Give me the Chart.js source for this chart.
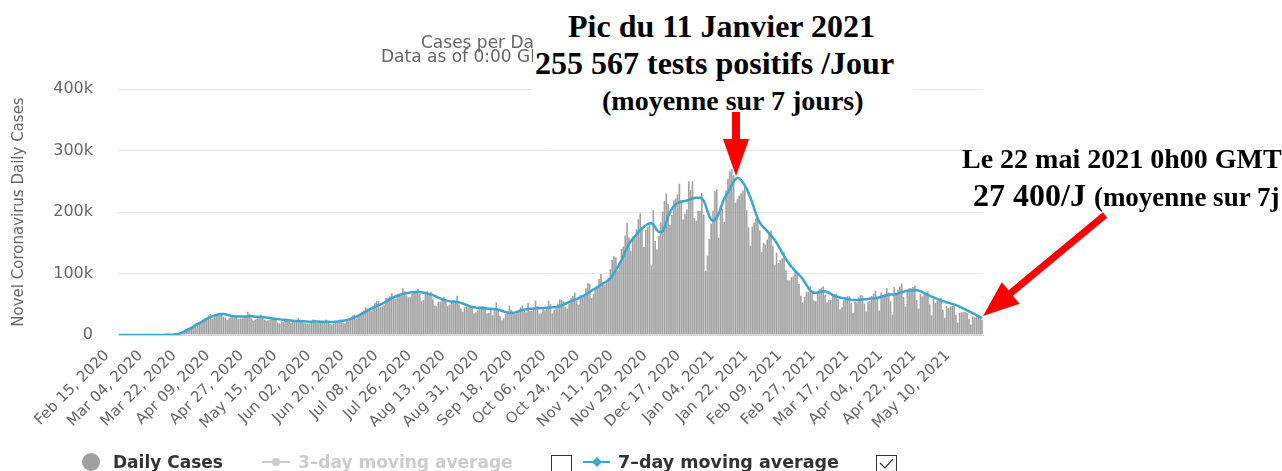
<!DOCTYPE html>
<html>
<head>
<meta charset="utf-8">
<script src="https://cdn.jsdelivr.net/npm/chart.js@4.4.1/dist/chart.umd.min.js"></script>
<style>
  html, body { margin:0; padding:0; background:#fff; width:1282px; height:471px; overflow:hidden; }
  #wrap { position:absolute; left:0; top:0; width:1282px; height:471px; }
  .t { position:absolute; white-space:nowrap; }
  .sub { font-family:"DejaVu Sans", sans-serif; font-size:17px; line-height:17px; color:#666; }
  .ann { font-family:"Liberation Serif", "Times New Roman", serif; font-weight:bold; color:#000; }
  .leg { font-family:"DejaVu Sans", sans-serif; font-weight:bold; font-size:17px; line-height:17px; }
</style>
</head>
<body>
<div id="wrap"><canvas id="c"></canvas></div>

<div class="t sub" style="left:421px; top:34px;">Cases per Day</div>
<div class="t sub" style="left:381px; top:48px;">Data as of 0:00 GMT+0</div>

<div style="position:absolute; left:533px; top:0; width:380px; height:118px; background:#fff;"></div>
<div class="t ann" style="left:568px; top:10px; font-size:32px; line-height:32px;">Pic du 11 Janvier 2021</div>
<div class="t ann" style="left:535px; top:47px; font-size:32px; line-height:32px;">255 567 tests positifs /Jour</div>
<div class="t ann" style="left:602px; top:87px; font-size:28px; line-height:28px;">(moyenne sur 7 jours)</div>

<div class="t ann" style="left:962px; top:145px; font-size:28px; line-height:28px;">Le 22 mai 2021 0h00 GMT</div>
<div class="t ann" style="left:973px; top:179px; font-size:32px; line-height:32px;">27 400/J <span style="font-size:27px; line-height:0;">(moyenne sur 7j</span></div>

<svg style="position:absolute; left:0; top:0;" width="1282" height="471">
  <polygon fill="#ff0000" points="732,112 740,112 740,139 749,139 736,176 723,139 732,139"/>
  <polygon fill="#ff0000" points="1102.8,212.3 1008.5,290.3 1001.8,282.2 983,316 1019.6,303.8 1012.9,295.7 1107.2,217.7"/>
  <!-- legend symbols -->
  <circle cx="91" cy="462" r="9" fill="#a0a0a0"/>
  <line x1="262" y1="462" x2="290" y2="462" stroke="#cccccc" stroke-width="2"/>
  <circle cx="276" cy="462" r="4" fill="#cccccc"/>
  <rect x="551.5" y="455.5" width="20" height="20" fill="none" stroke="#333" stroke-width="1"/>
  <line x1="583" y1="462" x2="610" y2="462" stroke="#3ca6d2" stroke-width="2"/>
  <polygon fill="#3ca6d2" points="597,457 602,462 597,467 592,462"/>
  <rect x="876.5" y="455.5" width="20" height="20" fill="none" stroke="#333" stroke-width="1"/>
  <polyline points="880,463 885,468 893,459" fill="none" stroke="#333" stroke-width="1.2"/>
</svg>
<div class="t leg" style="left:113px; top:454px; color:#333;">Daily Cases</div>
<div class="t leg" style="left:298px; top:454px; color:#cccccc;">3–day moving average</div>
<div class="t leg" style="left:618px; top:454px; color:#333; font-size:17.5px;">7–day moving average</div>

<script>
// Tick labels of the x axis (every 18 days)
const tickLabels = ["Feb 15, 2020","Mar 04, 2020","Mar 22, 2020","Apr 09, 2020","Apr 27, 2020","May 15, 2020",
  "Jun 02, 2020","Jun 20, 2020","Jul 08, 2020","Jul 26, 2020","Aug 13, 2020","Aug 31, 2020","Sep 18, 2020",
  "Oct 06, 2020","Oct 24, 2020","Nov 11, 2020","Nov 29, 2020","Dec 17, 2020","Jan 04, 2021","Jan 22, 2021",
  "Feb 09, 2021","Feb 27, 2021","Mar 17, 2021","Apr 04, 2021","Apr 22, 2021","May 10, 2021"];
const yTicks = [0, 100, 200, 300, 400]; // thousands

// Daily cases (thousands), Feb 15 2020 -> May 22 2021, one row per week (Sat..Fri)
const dailyCases = [
 0,0,0,0,0,0,0,
 0,0,0,0,0,0,0,
 0,0,0,0,0,0.1,0.1,
 0.1,0.1,0.2,0.3,0.4,0.5,0.6,
 0.8,1,1.5,2,3,4.5,6,
 7.5,9,11,11,14,17,19,
 20,19,21,25,27,29,32,
 34,26,29,31,32,34,35,
 30,28,25,27,29,31,32,
 29,26,27,27,29,31,38,
 34,27,23,25,27,30,33,
 29,25,23,24,25,28,28,
 25,20,19,22,21,27,25,
 24,19,22,21,22,28,24,
 22,20,19,19,19,22,25,
 24,20,21,20,20,21,25,
 22,18,17,19,21,23,25,
 25,19,19,23,25,28,32,
 33,27,31,35,38,40,45,
 43,41,40,46,52,55,55,
 45,46,48,60,61,63,68,
 63,59,62,66,68,76,71,
 64,61,62,67,71,72,75,
 67,55,57,66,71,68,70,
 58,48,47,54,54,59,62,
 56,47,49,55,56,52,64,
 50,43,38,45,46,45,48,
 45,35,37,40,44,47,47,
 43,35,36,42,32,44,53,
 42,31,24,27,34,36,48,
 41,34,35,39,40,45,48,
 42,37,52,39,39,45,56,
 47,35,35,43,40,46,56,
 50,35,41,43,51,58,57,
 55,46,43,51,60,64,69,
 56,49,65,60,63,76,84,
 83,60,67,75,80,91,99,
 83,82,90,93,107,122,128,
 126,105,119,140,144,162,182,
 159,137,160,162,172,188,198,
 173,143,171,176,183,113,203,
 153,139,161,183,201,218,230,
 213,179,195,219,222,229,246,
 219,188,197,204,250,236,250,
 190,186,202,202,231,196,104,
 129,156,181,202,234,237,158,
 210,205,184,235,254,266,270,
 260,215,221,227,230,235,240,
 203,175,145,176,183,190,188,
 170,135,150,147,155,166,170,
 145,114,134,117,122,125,135,
 105,89,89,94,95,103,103,
 83,64,53,62,70,70,79,
 72,56,55,72,75,77,79,
 65,53,57,57,66,66,67,
 59,42,45,57,58,63,63,
 52,36,54,53,61,65,64,
 51,38,54,55,63,67,72,
 60,40,69,63,67,76,69,
 55,33,78,66,74,79,84,
 62,46,72,76,76,78,80,
 57,43,67,63,66,69,71,
 50,32,59,52,56,58,60,
 41,28,47,44,46,47,47,
 33,20,36,37,37,38,36,
 26,17,30,29,31,31,30,
 25
];

// 7-day moving average (thousands), same days
const avg7 = [
 0,0,0,0,0,0,0,
 0,0,0,0,0,0,0,
 0,0,0,0,0,0,0.1,
 0.1,0.1,0.1,0.2,0.3,0.3,0.4,
 0.6,0.8,1.1,1.5,2.1,3,4.2,
 5.6,7,8.6,10.3,12,14,15.8,
 17.6,19.3,21,22.8,24.5,26.2,27.8,
 29.2,30.4,31.5,32.5,33.4,34,34.3,
 34.2,33.5,32.8,32,31.3,30.8,30.4,
 30.2,30,29.9,29.9,30,30.2,30.5,
 30.6,30.4,30.1,29.8,29.6,29.5,29.4,
 29.2,28.9,28.5,28,27.5,27,26.6,
 26.2,25.8,25.4,25,24.7,24.5,24.3,
 24,23.6,23.2,23,22.9,22.8,22.6,
 22.4,22.2,22,21.8,21.7,21.7,21.8,
 21.9,22,21.9,21.7,21.6,21.5,21.5,
 21.4,21.3,21.3,21.4,21.6,21.9,22.3,
 22.8,23.3,23.9,24.6,25.4,26.3,27.3,
 28.5,29.8,31.3,32.8,34.4,36,37.8,
 39.5,41.2,42.8,44.3,45.8,47.2,48.5,
 49.8,51.2,52.8,54.5,56.3,58.1,59.8,
 61.3,62.6,63.8,65,66,66.8,67.5,
 68,68.5,69,69.4,69.7,69.9,70,
 69.8,69.4,68.8,68.2,67.5,66.8,66,
 64.9,63.6,62.2,60.8,59.5,58.3,57.2,
 56.3,55.6,55,54.6,54.3,54,53.6,
 53,52.2,51.2,50,48.8,47.6,46.6,
 45.8,45.2,44.8,44.5,44.3,44.1,43.9,
 43.6,43.2,42.8,42.5,42.3,42.2,42,
 41.4,40.5,39.4,38.3,37.3,36.6,36.2,
 36,36.2,36.8,37.7,38.8,39.8,40.6,
 41.3,41.9,42.3,42.6,42.8,43,43.2,
 43.4,43.6,43.8,44,44.2,44.4,44.6,
 44.8,45,45.3,45.7,46.2,47,48.1,
 49.4,50.8,52.2,53.6,55,56.3,57.5,
 58.6,59.8,61.1,62.6,64.3,66.2,68.3,
 70.3,72.2,74,75.8,77.7,79.7,81.8,
 83.7,85.4,87,89,91.8,95.6,100.5,
 105.5,110.6,116,122,128.5,135.3,142,
 147.8,152.6,156.5,160,163.5,167,170.5,
 173.5,176.2,178.4,180.2,181.5,181.8,179.8,
 175.2,170.6,167.8,166.8,168.5,174.5,183.5,
 192.5,200,205.5,209.5,212.5,214.6,216,
 216.8,217.4,218,218.8,219.8,221,222,
 222.8,223.2,223.3,223,222,218.5,211,
 201.5,193,187.5,185.5,186.5,190.5,197,
 205,214,221.5,227,232,237.5,243.5,
 249,253.5,255.6,254.8,252,248,243,
 237.5,231,223.5,215,206,197,189,
 183,178.5,175,172,168.8,165.5,162,
 158.5,154.5,150,145,139.5,134,128.5,
 123.5,119,114.8,111,107.5,104,101,
 98,94.8,91,86.5,81.5,76.5,72.5,
 70,68.8,68.6,69,69.8,70.6,71.2,
 71,70.2,68.8,67,65.3,63.8,62.6,
 61.7,61,60.4,59.8,59.2,58.6,58,
 57.5,57.1,56.9,56.8,56.9,57.2,57.6,
 58,58.3,58.6,58.9,59.2,59.6,60.1,
 60.7,61.4,62.2,63,63.8,64.6,65.3,
 65.8,66,66.1,66.5,67.3,68.4,69.6,
 70.6,71.4,72,72.4,72.7,72.9,73,
 72.8,72.2,71.2,69.8,68.2,66.6,65.1,
 63.7,62.4,61.2,60,58.8,57.6,56.4,
 55.3,54.3,53.3,52.4,51.5,50.6,49.6,
 48.5,47.3,45.9,44.5,43,41.5,40,
 38.5,37,35.6,34.1,32.5,30.8,29,
 27.4
];

// Category labels: one per day starting Feb 15, 2020
const MONTHS = ["Jan","Feb","Mar","Apr","May","Jun","Jul","Aug","Sep","Oct","Nov","Dec"];
const categories = dailyCases.map((_, i) => {
  const d = new Date(Date.UTC(2020, 1, 15 + i));
  return MONTHS[d.getUTCMonth()] + " " + String(d.getUTCDate()).padStart(2, "0") + ", " + d.getUTCFullYear();
});
const TICK_EVERY = 18;

new Chart(document.getElementById('c'), {
  type: 'bar',
  data: {
    labels: categories,
    datasets: [
      {
        type: 'line', label: '7-day moving average', data: avg7,
        borderColor: '#3ca6d2', borderWidth: 2.5, pointRadius: 0, tension: 0, order: 0, fill: false
      },
      {
        type: 'bar', label: 'Daily Cases', data: dailyCases,
        backgroundColor: '#a0a0a0', barPercentage: 0.86, categoryPercentage: 1, order: 1
      }
    ]
  },
  options: {
    responsive: true, maintainAspectRatio: false, animation: false,
    layout: { padding: { top: 89, right: 299, left: 0, bottom: 0 } },
    plugins: { legend: { display: false }, tooltip: { enabled: false }, title: { display: false } },
    scales: {
      x: {
        grid: { display: false, drawTicks: false },
        border: { display: true, color: '#ccd6eb', width: 1 },
        ticks: {
          autoSkip: false, maxRotation: 45, minRotation: 45, padding: 12, labelOffset: -12,
          color: '#666', font: { family: 'DejaVu Sans', size: 15 },
          callback: (v, i) => (i % TICK_EVERY === 0 ? tickLabels[i / TICK_EVERY] : null)
        },
        afterFit: (s) => { s.height = 136; }
      },
      y: {
        min: yTicks[0], max: yTicks[yTicks.length - 1],
        afterBuildTicks: (s) => { s.ticks = yTicks.map(v => ({ value: v })); },
        grid: { color: '#e6e6e6', drawTicks: false, lineWidth: 1 },
        border: { display: false },
        ticks: {
          padding: 25, color: '#666', font: { family: 'DejaVu Sans', size: 16 },
          callback: (v) => (v === 0 ? '0' : v + 'k')
        },
        title: {
          display: true, text: 'Novel Coronavirus Daily Cases', color: '#666',
          font: { family: 'DejaVu Sans', size: 15 }, padding: { top: 10, bottom: 0 }
        },
        afterFit: (s) => { s.width = 118; }
      }
    }
  }
});
</script>
</body>
</html>
